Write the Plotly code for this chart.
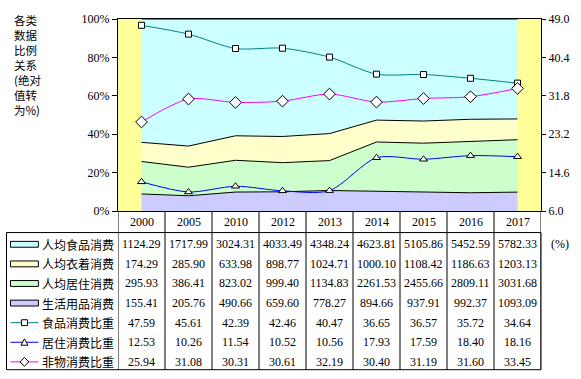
import plotly.graph_objects as go

years = ['2000', '2005', '2010', '2012', '2013', '2014', '2015', '2016', '2017']
food = [1124.29, 1717.99, 3024.31, 4033.49, 4348.24, 4623.81, 5105.86, 5452.59, 5782.33]
clothing = [174.29, 285.90, 633.98, 898.77, 1024.71, 1000.10, 1108.42, 1186.63, 1203.13]
housing = [295.93, 386.41, 823.02, 999.40, 1134.83, 2261.53, 2455.66, 2809.11, 3031.68]
goods = [155.41, 205.76, 490.66, 659.60, 778.27, 894.66, 937.91, 992.37, 1093.09]
food_ratio = [47.59, 45.61, 42.39, 42.46, 40.47, 36.65, 36.57, 35.72, 34.64]
housing_ratio = [12.53, 10.26, 11.54, 10.52, 10.56, 17.93, 17.59, 18.40, 18.16]
nonmat_ratio = [25.94, 31.08, 30.31, 30.61, 32.19, 30.40, 31.19, 31.60, 33.45]

area_names = ['人均食品消费', '人均衣着消费', '人均居住消费', '生活用品消费']
line_names = ['食品消费比重', '居住消费比重', '非物消费比重']
title_lines = ['各类', '数据', '比例', '关系', '(绝对', '值转', '为%)']
left_ticks = [0, 20, 40, 60, 80, 100]
right_ticks = [6.0, 14.6, 23.2, 31.8, 40.4, 49.0]

W, H = 581, 379
L, R, T, B = 118, 38, 15, 168
PW, PH = W - L - R, H - T - B


def pxp(x):
    return (x - L) / PW


def pyp(y):
    return (H - B - y) / PH


SERIF = 'Liberation Serif'
CJK = 'Noto Sans CJK SC'

area_cols = {'人均食品消费': '#CCFFFF', '人均衣着消费': '#FFFFCC',
             '人均居住消费': '#CCFFCC', '生活用品消费': '#CCCCFF'}
area_data = {'人均食品消费': food, '人均衣着消费': clothing,
             '人均居住消费': housing, '生活用品消费': goods}
line_cols = {'食品消费比重': '#008080', '居住消费比重': '#0000FF', '非物消费比重': '#FF00FF'}
line_data = {'食品消费比重': food_ratio, '居住消费比重': housing_ratio, '非物消费比重': nonmat_ratio}
line_sym = {'食品消费比重': ('square', 6), '居住消费比重': ('triangle-up', 7), '非物消费比重': ('diamond', 9)}

fig = go.Figure()
xi = list(range(len(years)))
for nm in reversed(area_names):
    fig.add_trace(go.Scatter(x=xi, y=area_data[nm], name=nm, stackgroup='a', groupnorm='percent',
                             mode='lines', line=dict(color='black', width=1),
                             fillcolor=area_cols[nm], showlegend=False))
for nm in line_names:
    s, sz = line_sym[nm]
    fig.add_trace(go.Scatter(x=xi, y=line_data[nm], name=nm, yaxis='y2', mode='lines+markers',
                             line=dict(color=line_cols[nm], width=1, shape='spline', smoothing=0.8),
                             marker=dict(symbol=s, size=sz, color='white', line=dict(color='black', width=1)),
                             showlegend=False, cliponaxis=False))

shapes = []
annotations = []

# title (one multi-line text)
annotations.append(dict(x=pxp(12), y=pyp(6), xref='paper', yref='paper', text='<br>'.join(title_lines),
                        showarrow=False, xanchor='left', yanchor='top', align='left',
                        font=dict(family=CJK, size=11.5, color='black')))

# header years
for i, yr in enumerate(years):
    annotations.append(dict(x=i, y=pyp(222), xref='x', yref='paper', text=yr, showarrow=False,
                            xanchor='center', yanchor='middle', font=dict(family=SERIF, size=12, color='black')))

rows = [(nm, area_data[nm], 'area') for nm in area_names] + [(nm, line_data[nm], 'line') for nm in line_names]
for r, (nm, vals, kind) in enumerate(rows):
    yc = 245 + 20 * r
    for i, v in enumerate(vals):
        annotations.append(dict(x=i, y=pyp(yc), xref='x', yref='paper', text=f'{v:.2f}', showarrow=False,
                                xanchor='center', yanchor='middle', font=dict(family=SERIF, size=12, color='black')))
    annotations.append(dict(x=pxp(40), y=pyp(yc), xref='paper', yref='paper', text=nm, showarrow=False,
                            xanchor='left', yanchor='middle', font=dict(family=CJK, size=12, color='black')))
    if kind == 'area':
        shapes.append(dict(type='rect', xref='paper', yref='paper', x0=pxp(10), x1=pxp(38),
                           y0=pyp(yc - 3), y1=pyp(yc + 3), fillcolor=area_cols[nm],
                           line=dict(color='black', width=1)))
    else:
        shapes.append(dict(type='line', xref='paper', yref='paper', x0=pxp(10), x1=pxp(38),
                           y0=pyp(yc), y1=pyp(yc), line=dict(color=line_cols[nm], width=1)))
        cx = 24
        s = line_sym[nm][0]
        if s == 'square':
            shapes.append(dict(type='rect', xref='paper', yref='paper', x0=pxp(cx - 3), x1=pxp(cx + 3),
                               y0=pyp(yc - 3), y1=pyp(yc + 3), fillcolor='white', line=dict(color='black', width=1)))
        elif s == 'triangle-up':
            path = f'M {pxp(cx-3.5)} {pyp(yc+3)} L {pxp(cx+3.5)} {pyp(yc+3)} L {pxp(cx)} {pyp(yc-3.5)} Z'
            shapes.append(dict(type='path', xref='paper', yref='paper', path=path,
                               fillcolor='white', line=dict(color='black', width=1)))
        else:
            path = f'M {pxp(cx-4.5)} {pyp(yc)} L {pxp(cx)} {pyp(yc-4.5)} L {pxp(cx+4.5)} {pyp(yc)} L {pxp(cx)} {pyp(yc+4.5)} Z'
            shapes.append(dict(type='path', xref='paper', yref='paper', path=path,
                               fillcolor='white', line=dict(color='black', width=1)))

# table lines
for i in range(len(years) + 1):
    shapes.append(dict(type='line', xref='x', yref='paper', x0=i - 0.5, x1=i - 0.5,
                       y0=pyp(211), y1=pyp(373), line=dict(color='black', width=1)))
shapes.append(dict(type='rect', xref='paper', yref='paper', x0=pxp(6), x1=1.0,
                   y0=pyp(233), y1=pyp(373), line=dict(color='black', width=1), fillcolor='rgba(0,0,0,0)'))

annotations.append(dict(x=pxp(551), y=pyp(245), xref='paper', yref='paper', text='(%)', showarrow=False,
                        xanchor='left', yanchor='middle', font=dict(family=SERIF, size=12, color='black')))

fig.update_layout(
    width=W, height=H, margin=dict(l=L, r=R, t=T, b=B, pad=0),
    paper_bgcolor='white', plot_bgcolor='#FFFF99', showlegend=False,
    xaxis=dict(range=[-0.5, len(years) - 0.5], showticklabels=False, ticks='', showgrid=False,
               zeroline=False, showline=True, linecolor='black', linewidth=1, mirror=True),
    yaxis=dict(range=[0, 100], tickvals=left_ticks, ticktext=[f'{v}%' for v in left_ticks],
               ticks='outside', ticklen=5, tickcolor='black', showgrid=False, zeroline=False,
               showline=True, linecolor='black', linewidth=1, mirror=True,
               tickfont=dict(family=SERIF, size=12, color='black')),
    yaxis2=dict(range=[6, 49], overlaying='y', side='right', tickvals=right_ticks,
                ticktext=[f'{v:.1f}' for v in right_ticks], ticks='outside', ticklen=4, tickcolor='black',
                showgrid=False, zeroline=False, showline=True, linecolor='black', linewidth=1,
                tickfont=dict(family=SERIF, size=12, color='black')),
    shapes=shapes, annotations=annotations,
)

fig.write_html('out.html', config={'displayModeBar': False},
               post_script="document.body.style.margin='0px';document.body.style.overflow='hidden';")
